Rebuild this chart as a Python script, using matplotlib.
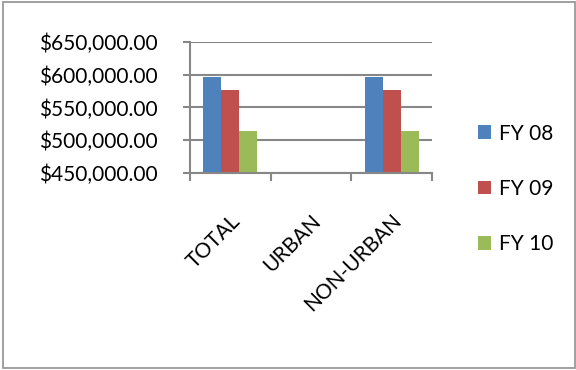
import numpy as np
import matplotlib
matplotlib.use("Agg")
import matplotlib.pyplot as plt
import matplotlib.transforms as mtransforms
from matplotlib.patches import Rectangle
from matplotlib.ticker import FuncFormatter, FixedLocator

# data
categories = ["TOTAL", "URBAN", "NON-URBAN"]
series_names = ["FY 08", "FY 09", "FY 10"]
fy08 = [596000, np.nan, 596000]
fy09 = [577000, np.nan, 577000]
fy10 = [514000, np.nan, 514000]
y_ticks = [450000, 500000, 550000, 600000, 650000]

colors = ["#4F81BD", "#C0504D", "#9BBB59"]
grid_color = "#878787"

plt.rcParams['font.family'] = ['Lato', 'DejaVu Sans']
fs = 15

W, H = 576, 370
fig = plt.figure(figsize=(W / 100, H / 100), dpi=100)

# outer frame of the chart object
fig.patches.append(Rectangle((3 / W, 2.5 / H), 572 / W, 365.5 / H, transform=fig.transFigure,
                             fill=False, edgecolor="#999999", linewidth=1.3))

# plot area in pixels: left 190, right 432, top 42, bottom 173
ax = fig.add_axes([190 / W, (H - 173) / H, 242 / W, 131 / H])

x = np.arange(len(categories))
bw = 0.222
for i, vals in enumerate([fy08, fy09, fy10]):
    ax.bar(x + (i - 1) * bw, vals, width=bw, color=colors[i], label=series_names[i], zorder=3)

ax.set_xlim(-0.5, len(categories) - 0.5)
ax.set_ylim(y_ticks[0], y_ticks[-1])
ax.set_yticks(y_ticks)
ax.yaxis.set_major_formatter(FuncFormatter(lambda v, p: "${:,.2f}".format(v)))
ax.yaxis.grid(True, color=grid_color, linewidth=1.5, zorder=0)

ax.set_xticks(x)
ax.set_xticklabels(categories, rotation=45, ha="right", va="top", rotation_mode="anchor")
ax.xaxis.set_minor_locator(FixedLocator(np.arange(-0.5, len(categories), 1.0)))
shift = mtransforms.ScaledTranslation(-0.06, -0.02, fig.dpi_scale_trans)
for lbl in ax.get_xticklabels():
    lbl.set_transform(lbl.get_transform() + shift)

for s in ["top", "right"]:
    ax.spines[s].set_visible(False)
for s in ["left", "bottom"]:
    ax.spines[s].set_color(grid_color)
    ax.spines[s].set_linewidth(1.5)
    ax.spines[s].set_zorder(4)

ax.tick_params(axis="y", length=5, width=1.5, color=grid_color, pad=18.5, labelsize=fs)
ax.tick_params(axis="x", which="major", length=0, pad=27, labelsize=fs)
ax.tick_params(axis="x", which="minor", length=6, width=1.5, color=grid_color)

fig.legend(loc="center left", bbox_to_anchor=(459 / W, (H - 189) / H), frameon=False,
           fontsize=fs, handlelength=0.62, handleheight=0.62, handletextpad=0.4,
           labelspacing=1.7)

fig.savefig("out.png", dpi=100)
